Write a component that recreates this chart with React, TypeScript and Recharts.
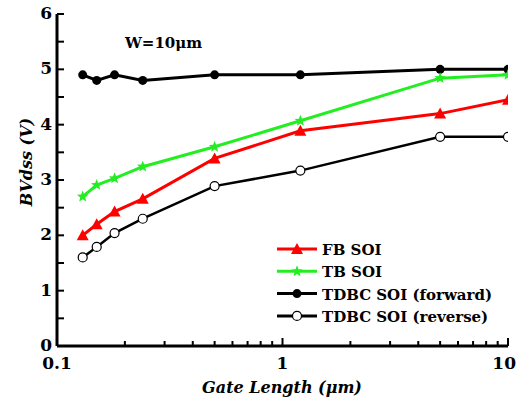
import React from "react";
import {
  LineChart,
  Line,
  XAxis,
  YAxis,
  Customized,
} from "recharts";

// gate length (um) and BVdss (V)
const gateLength = [0.13, 0.15, 0.18, 0.24, 0.5, 1.2, 5, 10];
const fbSoi = [2.0, 2.2, 2.43, 2.66, 3.39, 3.89, 4.2, 4.45];
const tbSoi = [2.7, 2.91, 3.03, 3.24, 3.6, 4.07, 4.84, 4.9];
const tdbcForward = [4.9, 4.8, 4.9, 4.8, 4.9, 4.9, 5.0, 5.0];
const tdbcReverse = [1.6, 1.79, 2.04, 2.3, 2.89, 3.17, 3.78, 3.78];

const xTicks = [0.1, 0.2, 0.3, 0.4, 0.5, 0.6, 0.7, 0.8, 0.9, 1, 2, 3, 4, 5, 6, 7, 8, 9, 10];
const xMajor = [0.1, 1, 10];
const yTicks = [0, 0.5, 1, 1.5, 2, 2.5, 3, 3.5, 4, 4.5, 5, 5.5, 6];

const data = gateLength.map((g, i) => ({
  g,
  fb: fbSoi[i],
  tb: tbSoi[i],
  fwd: tdbcForward[i],
  rev: tdbcReverse[i],
}));

const FONT = "'DejaVu Serif', serif";
const RED = "#ff0000";
const GREEN = "#22ee22";

const starPoints = (cx: number, cy: number, ro: number, ri: number) => {
  const pts: string[] = [];
  for (let k = 0; k < 10; k++) {
    const r = k % 2 === 0 ? ro : ri;
    const a = -Math.PI / 2 + (k * Math.PI) / 5;
    pts.push(`${cx + r * Math.cos(a)},${cy + r * Math.sin(a)}`);
  }
  return pts.join(" ");
};

const Triangle = ({ cx, cy }: { cx: number; cy: number }) => (
  <polygon points={`${cx},${cy - 6} ${cx - 6},${cy + 5} ${cx + 6},${cy + 5}`} fill={RED} />
);
const Star = ({ cx, cy }: { cx: number; cy: number }) => (
  <polygon points={starPoints(cx, cy, 6, 2.6)} fill={GREEN} />
);
const Dot = ({ cx, cy }: { cx: number; cy: number }) => <circle cx={cx} cy={cy} r={4.5} fill="#000" />;
const OpenDot = ({ cx, cy }: { cx: number; cy: number }) => (
  <circle cx={cx} cy={cy} r={4.5} fill="#fff" stroke="#000" strokeWidth={1.2} />
);

const dotFn = (Shape: any) => (p: any) =>
  p.cx == null ? <g key={p.index} /> : <Shape key={p.index} cx={p.cx} cy={p.cy} />;

const fmtX = (v: number) => (v === 0.1 ? "0.1" : String(v));

const BottomTick = (p: any) => {
  const { x, y, payload } = p;
  const major = xMajor.includes(payload.value);
  const last = payload.value === 10;
  return (
    <g>
      <line x1={x} x2={x} y1={y} y2={y - (major ? 8 : 5)} stroke="#000" strokeWidth={2} />
      {major && (
        <text
          x={last ? 516 : x}
          y={y + 23}
          textAnchor={last ? "end" : "middle"}
          fontFamily={FONT}
          fontWeight="bold"
          fontSize={17}
          fill="#000"
        >
          {fmtX(payload.value)}
        </text>
      )}
    </g>
  );
};

const TopTick = (p: any) => {
  const { x, y, payload } = p;
  const major = xMajor.includes(payload.value);
  return <line x1={x} x2={x} y1={y} y2={y + (major ? 8 : 5)} stroke="#000" strokeWidth={2} />;
};

const LeftTick = (p: any) => {
  const { x, y, payload } = p;
  const major = Number.isInteger(payload.value);
  return (
    <g>
      <line x1={x} x2={x + 7} y1={y} y2={y} stroke="#000" strokeWidth={2} />
      {major && (
        <text x={x - 5} y={y + 5} textAnchor="end" fontFamily={FONT} fontWeight="bold" fontSize={17} fill="#000">
          {payload.value}
        </text>
      )}
    </g>
  );
};

const RightTick = (p: any) => {
  const { x, y } = p;
  return <line x1={x} x2={x - 7} y1={y} y2={y} stroke="#000" strokeWidth={2} />;
};

const legendItems = [
  { name: "FB SOI", color: RED, shape: Triangle },
  { name: "TB SOI", color: GREEN, shape: Star },
  { name: "TDBC SOI (forward)", color: "#000", shape: Dot },
  { name: "TDBC SOI (reverse)", color: "#000", shape: OpenDot },
];

const Annotations = () => (
  <g fontFamily={FONT} fontWeight="bold" fill="#000">
    <text x={125} y={48} fontSize={15}>
      W=10μm
    </text>
    <text
      x={0}
      y={0}
      fontSize={16}
      fontStyle="italic"
      textAnchor="middle"
      transform="translate(32,162) rotate(-90)"
    >
      BVdss (V)
    </text>
    <text x={282} y={393} fontSize={16} fontStyle="italic" textAnchor="middle">
      Gate Length (μm)
    </text>
    {legendItems.map((it, i) => {
      const cy = 249 + i * 22.3;
      const S = it.shape;
      return (
        <g key={it.name}>
          <line x1={277} x2={317} y1={cy} y2={cy} stroke={it.color} strokeWidth={3} />
          <S cx={297} cy={cy} />
          <text x={322} y={cy + 6} fontSize={15}>
            {it.name}
          </text>
        </g>
      );
    })}
  </g>
);

export default function App() {
  return (
    <div style={{ position: "absolute", left: 0, top: 0, background: "#fff" }}>
      <LineChart width={517} height={407} data={data} margin={{ top: 14, right: 9, bottom: 0, left: 0 }}>
        <XAxis
          dataKey="g"
          type="number"
          scale="log"
          domain={[0.1, 10]}
          allowDataOverflow
          ticks={xTicks}
          interval={0}
          height={61}
          tickSize={0}
          tickMargin={0}
          tickLine={false}
          axisLine={{ stroke: "#000", strokeWidth: 3 }}
          tick={<BottomTick />}
        />
        <XAxis
          xAxisId="top"
          orientation="top"
          dataKey="g"
          type="number"
          scale="log"
          domain={[0.1, 10]}
          allowDataOverflow
          ticks={xTicks}
          interval={0}
          height={0}
          tickSize={0}
          tickMargin={0}
          tickLine={false}
          axisLine={{ stroke: "#000", strokeWidth: 3 }}
          tick={<TopTick />}
        />
        <YAxis
          type="number"
          domain={[0, 6]}
          ticks={yTicks}
          interval={0}
          width={57}
          tickSize={0}
          tickMargin={0}
          tickLine={false}
          axisLine={{ stroke: "#000", strokeWidth: 3 }}
          tick={<LeftTick />}
        />
        <YAxis
          yAxisId="right"
          orientation="right"
          type="number"
          domain={[0, 6]}
          ticks={yTicks}
          interval={0}
          width={0}
          tickSize={0}
          tickMargin={0}
          tickLine={false}
          axisLine={{ stroke: "#000", strokeWidth: 3 }}
          tick={<RightTick />}
        />
        <Line dataKey="fwd" stroke="#000" strokeWidth={3} dot={dotFn(Dot)} isAnimationActive={false} />
        <Line dataKey="rev" stroke="#000" strokeWidth={2.5} dot={dotFn(OpenDot)} isAnimationActive={false} />
        <Line dataKey="tb" stroke={GREEN} strokeWidth={3} dot={dotFn(Star)} isAnimationActive={false} />
        <Line dataKey="fb" stroke={RED} strokeWidth={3} dot={dotFn(Triangle)} isAnimationActive={false} />
        <Customized component={Annotations} />
      </LineChart>
    </div>
  );
}
